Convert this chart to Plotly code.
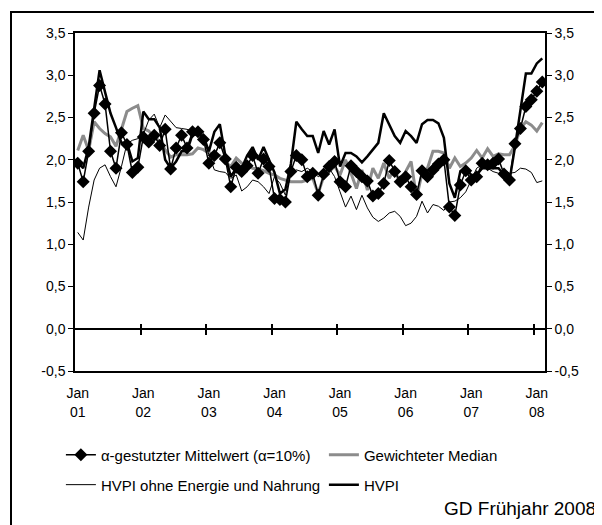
import plotly.graph_objects as go

# monthly values Jan 2001 - Feb 2008
years = ["01", "02", "03", "04", "05", "06", "07", "08"]
y_ticks = [-0.5, 0.0, 0.5, 1.0, 1.5, 2.0, 2.5, 3.0, 3.5]

trimmed_mean = [1.96, 1.74, 2.10, 2.55, 2.88, 2.66, 2.10, 1.90, 2.32, 2.18, 1.85, 1.91,
                2.27, 2.21, 2.29, 2.17, 2.36, 1.89, 2.14, 2.29, 2.14, 2.33, 2.33, 2.24,
                1.96, 2.05, 2.20, 2.01, 1.68, 1.91, 1.86, 1.93, 2.05, 1.84, 2.01, 1.92,
                1.54, 1.53, 1.50, 1.86, 2.05, 2.00, 1.80, 1.84, 1.58, 1.83, 1.92, 1.98,
                1.74, 1.68, 1.93, 1.86, 1.80, 1.75, 1.57, 1.60, 1.72, 1.99, 1.86, 1.74,
                1.80, 1.68, 1.59, 1.87, 1.80, 1.88, 1.95, 2.00, 1.44, 1.34, 1.70, 1.87,
                1.76, 1.80, 1.96, 1.94, 1.96, 2.01, 1.83, 1.76, 2.19, 2.37, 2.63, 2.71,
                2.81, 2.92]

weighted_median = [2.11, 2.29, 2.11, 2.45, 2.37, 2.31, 2.27, 2.16, 2.36, 2.57, 2.61, 2.64,
                   2.37, 2.34, 2.27, 2.22, 2.12, 2.03, 2.06, 2.06, 2.06, 2.07, 2.14, 2.12,
                   2.08, 2.07, 2.05, 1.97, 1.92, 2.02, 1.96, 1.93, 1.90, 1.89, 1.87, 1.84,
                   1.82, 1.78, 1.76, 1.74, 1.74, 1.74, 1.76, 1.78, 1.60, 1.80, 1.86, 1.92,
                   1.82, 2.00, 1.84, 1.66, 1.88, 1.64, 1.90, 1.78, 1.96, 1.78, 1.90, 1.70,
                   1.86, 1.98, 1.55, 1.84, 1.90, 2.10, 2.10, 2.08, 1.90, 2.02, 1.92, 1.96,
                   2.02, 2.11, 2.02, 2.13, 2.04, 2.07, 2.06, 2.06, 2.17, 2.37, 2.45, 2.41,
                   2.34, 2.44]

hvpi_core = [1.14, 1.05, 1.44, 1.76, 1.90, 1.94, 1.80, 1.68, 1.92, 2.19, 2.23, 2.25,
             2.30, 2.47, 2.54, 2.38, 2.53, 2.45, 2.38, 2.37, 2.36, 2.34, 2.30, 2.24,
             2.05, 1.88, 1.86, 1.85, 1.78, 1.82, 1.63, 1.68, 1.76, 1.74, 1.68, 1.60,
             1.80, 1.72, 1.58, 1.84, 1.88, 1.86, 1.90, 1.86, 1.80, 1.84, 1.90, 1.80,
             1.62, 1.44, 1.57, 1.41, 1.58, 1.43, 1.32, 1.27, 1.31, 1.37, 1.39, 1.33,
             1.22, 1.25, 1.33, 1.51, 1.37, 1.47, 1.45, 1.40, 1.50, 1.51, 1.55, 1.62,
             1.76, 1.90, 1.94, 1.90, 1.86, 1.84, 1.88, 1.84, 1.85, 1.90, 1.89, 1.85,
             1.73, 1.75]

hvpi = [1.97, 1.90, 2.15, 2.58, 3.06, 2.80, 2.55, 2.38, 2.20, 2.20, 1.98, 2.02,
        2.57, 2.48, 2.48, 2.38, 2.00, 1.90, 1.98, 2.10, 2.10, 2.30, 2.30, 2.28,
        2.10, 2.33, 2.42, 2.05, 1.80, 1.90, 1.90, 2.05, 2.15, 2.00, 2.15, 2.00,
        1.85, 1.60, 1.65, 1.95, 2.45, 2.36, 2.28, 2.28, 2.08, 2.34, 2.18, 2.36,
        1.92, 2.08, 2.08, 2.04, 1.97, 2.04, 2.12, 2.20, 2.55, 2.41, 2.28, 2.20,
        2.34, 2.28, 2.20, 2.42, 2.47, 2.47, 2.43, 2.26, 1.72, 1.55, 1.86, 1.90,
        1.82, 1.82, 1.90, 1.90, 1.90, 1.90, 1.82, 1.75, 2.15, 2.60, 3.02, 3.02,
        3.14, 3.20]

months = list(range(len(hvpi)))
jan_idx = months[::12]
year_breaks = [m - 0.5 for m in jan_idx[1:]]
xrange = [-0.5, len(hvpi) - 0.5]
y_labels = [f"{v:.1f}".replace(".", ",") for v in y_ticks]

fig = go.Figure()

fig.add_trace(go.Scatter(x=months, y=weighted_median, mode="lines",
                         name="Gewichteter Median", legendrank=2,
                         line=dict(color="#8c8c8c", width=3)))
fig.add_trace(go.Scatter(x=months, y=hvpi_core, mode="lines",
                         name="HVPI ohne Energie und Nahrung", legend="legend2", legendrank=3,
                         line=dict(color="black", width=1)))
fig.add_trace(go.Scatter(x=months, y=hvpi, mode="lines",
                         name="HVPI", legend="legend2", legendrank=4,
                         line=dict(color="black", width=2.5)))
fig.add_trace(go.Scatter(x=months, y=trimmed_mean, mode="lines+markers",
                         name="α-gestutzter Mittelwert (α=10%)", legendrank=1,
                         line=dict(color="black", width=1.5),
                         marker=dict(symbol="diamond", size=10, color="black")))

# empty helper traces so the extra axes (right y axis, year labels, ticks on the zero line) get drawn
for xa, ya in [("x2", "y"), ("x3", "y"), ("x4", "y"), ("x", "y2")]:
    fig.add_trace(go.Scatter(x=[None], y=[None], xaxis=xa, yaxis=ya,
                             showlegend=False, hoverinfo="skip"))

axis_common = dict(showgrid=False, zeroline=False, color="black")
yaxis_common = dict(range=[-0.5, 3.5], tickvals=y_ticks, ticktext=y_labels,
                    ticks="outside", ticklen=5, tickcolor="black", showline=True,
                    linecolor="black", linewidth=1.5, showgrid=False, color="black")
zero_ticks = dict(overlaying="x", anchor="free", position=0.125, range=xrange,
                  tickvals=year_breaks, ticks="outside", ticklen=5, tickwidth=1.5,
                  tickcolor="black", showticklabels=False, showline=False, **axis_common)

fig.update_layout(
    width=602, height=525,
    margin=dict(l=67, r=65, t=25, b=162),
    paper_bgcolor="white", plot_bgcolor="white",
    font=dict(family="Liberation Sans, Arial, sans-serif", size=14, color="black"),
    xaxis=dict(range=xrange, tickvals=jan_idx, ticktext=["Jan"] * len(jan_idx),
               ticks="", showline=True, linecolor="black", linewidth=1.5, mirror=True,
               ticklabelstandoff=8, **axis_common),
    xaxis4=dict(overlaying="x", anchor="y", side="bottom", range=xrange,
                tickvals=jan_idx, ticktext=years, ticks="", showline=False,
                ticklabelstandoff=31, **axis_common),
    xaxis2=dict(side="bottom", **zero_ticks),
    xaxis3=dict(side="top", **zero_ticks),
    yaxis=dict(zeroline=True, zerolinecolor="black", zerolinewidth=1.5, **yaxis_common),
    yaxis2=dict(overlaying="y", side="right", zeroline=False, **yaxis_common),
    legend=dict(orientation="h", x=-0.03, xanchor="left", y=-0.2485, yanchor="middle",
                entrywidth=218, entrywidthmode="pixels", itemwidth=30,
                bgcolor="rgba(0,0,0,0)", font=dict(size=15)),
    legend2=dict(orientation="h", x=-0.03, xanchor="left", y=-0.337, yanchor="middle",
                 entrywidth=218, entrywidthmode="pixels", itemwidth=30,
                 bgcolor="rgba(0,0,0,0)", font=dict(size=15)),
    showlegend=True,
)

fig.add_annotation(text="GD Frühjahr 2008", xref="paper", yref="paper",
                   x=(442 - 75) / 470, y=(371 - 508) / 338, xanchor="left",
                   yanchor="middle", showarrow=False, font=dict(size=19))

# outer frame of the figure (runs off the right and bottom edge)
fig.add_shape(type="rect", xref="paper", yref="paper",
              x0=(11 - 75) / 470, x1=1.2, y0=-0.6, y1=(371 - 12) / 338,
              line=dict(color="black", width=2), layer="below")

fig.write_html("out.html")
